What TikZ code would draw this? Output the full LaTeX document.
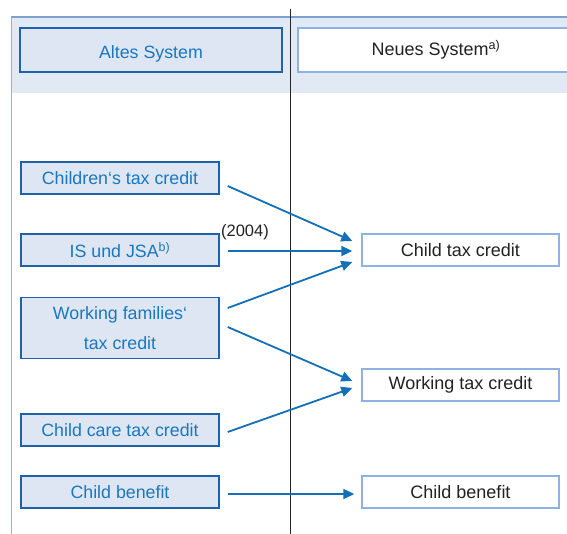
\documentclass[tikz,border=0pt]{standalone}
\usepackage{fontspec}
\setmainfont{Liberation Sans}
\usetikzlibrary{arrows.meta,positioning}
\definecolor{bandfill}{HTML}{E1E9F5}
\definecolor{bandline}{HTML}{7F9FCF}
\definecolor{boxfill}{HTML}{DEE6F3}
\definecolor{oldline}{HTML}{1F62AC}
\definecolor{newline}{HTML}{8DB3E2}
\definecolor{oldtext}{HTML}{1A77C0}
\definecolor{newtext}{HTML}{222222}
\definecolor{arrcol}{HTML}{1370B8}
\tikzset{
  oldbox/.style={draw=oldline, line width=1.4pt, fill=boxfill, text=oldtext,
    minimum width=198pt, minimum height=32pt, inner sep=0pt,
    font=\fontsize{17.8}{30}\selectfont, align=center},
  newbox/.style={draw=newline, line width=1.4pt, fill=white, text=newtext,
    minimum width=197pt, minimum height=32pt, inner sep=0pt,
    font=\fontsize{18}{30}\selectfont},
  arr/.style={draw=arrcol, line width=1.8pt, -{Triangle[length=11pt,width=10pt]}},
  lbl/.style={text=newtext, font=\fontsize{16.5}{18}\selectfont, inner sep=0pt}
}
\begin{document}
\begin{tikzpicture}[x=1pt,y=-1pt]
\fill[white] (0,0) rectangle (567,534);
\clip (0,0) rectangle (567,534);
% header band and frame
\fill[bandfill] (11,17) rectangle (580,93);
\draw[bandline, line width=1.4pt] (11,17) -- (580,17);
\draw[newline, line width=1pt] (11,17) -- (11,540);
\draw[black!85, line width=0.9pt] (290,9) -- (290,540);
% header boxes
\node[oldbox, minimum width=262pt, minimum height=44pt, text height=18pt, text depth=0pt] (altes) at (151,50) {Altes System};
\node[newbox, minimum width=276pt, minimum height=44pt] (neues) at (436,50) {Neues System\textsuperscript{a)}};
% old system
\node[oldbox] (ctc0) at (120,178) {Children‘s tax credit};
\node[oldbox] (isjsa) at (120,250) {IS und JSA\textsuperscript{b)}};
\node[oldbox, minimum height=61pt] (wftc) at (120,328) {Working families‘\\tax credit};
\node[oldbox] (cctc) at (120,430) {Child care tax credit};
\node[oldbox] (cb0) at (120,492) {Child benefit};
% new system
\node[newbox] (ctc) at (460.5,250) {Child tax credit};
\node[newbox] (wtc) at (460.5,385) {Working tax credit};
\node[newbox] (cb) at (460.5,492) {Child benefit};
% label
\node[lbl] (yr) at (245,232) {(2004)};
% arrows
\draw[arr] ([xshift=8pt,yshift=-8pt]ctc0.east) -- ([xshift=-9pt,yshift=9pt]ctc.west);
\draw[arr] ([xshift=8pt,yshift=-1pt]isjsa.east) -- ([xshift=-9pt,yshift=-1pt]ctc.west);
\draw[arr] ([xshift=8pt,yshift=20pt]wftc.east) -- ([xshift=-9pt,yshift=-12pt]ctc.west);
\draw[arr] ([xshift=8pt,yshift=1pt]wftc.east) -- ([xshift=-9pt,yshift=4pt]wtc.west);
\draw[arr] ([xshift=8pt,yshift=-2pt]cctc.east) -- ([xshift=-9pt,yshift=-3pt]wtc.west);
\draw[arr] ([xshift=8pt,yshift=-2pt]cb0.east) -- ([xshift=-7pt,yshift=-2pt]cb.west);
\end{tikzpicture}
\end{document}
